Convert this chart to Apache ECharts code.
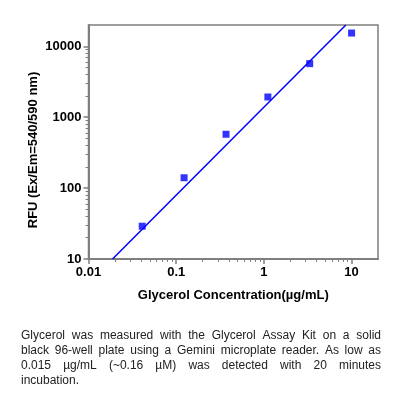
<!DOCTYPE html>
<html>
<head>
<meta charset="utf-8">
<script src="https://cdn.jsdelivr.net/npm/echarts@6/dist/echarts.min.js"></script>
<style>
html, body { margin: 0; padding: 0; background: #fff; }
#main { width: 400px; height: 398px; }
</style>
</head>
<body>
<div id="main"></div>
<script>
// 数据
var conc = [0.041, 0.123, 0.37, 1.11, 3.33, 10];
var rfu = [29, 140, 575, 1930, 5700, 15400];
// 拟合线两端
var fitX = [0.0188, 8.6];
var fitY = [10, 20000];
// 刻度
var xMajor = [0.01, 0.1, 1, 10];
var yMajor = [10, 100, 1000, 10000];
var xMinor = [0.02, 0.03, 0.04, 0.05, 0.06, 0.07, 0.08, 0.09, 0.2, 0.3, 0.4, 0.5, 0.6, 0.7, 0.8, 0.9, 2, 3, 4, 5, 6, 7, 8, 9];
var yMinor = [20, 30, 40, 50, 60, 70, 80, 90, 200, 300, 400, 500, 600, 700, 800, 900, 2000, 3000, 4000, 5000, 6000, 7000, 8000, 9000];
var caption = [
	"Glycerol was measured with the Glycerol Assay Kit on a solid",
	"black 96-well plate using a Gemini microplate reader. As low as",
	"0.015 \u00b5g/mL (~0.16 \u00b5M) was detected with 20 minutes",
	"incubation."
];

var axisColor = "#7f7f7f";
var labelFont = { fontFamily: "Liberation Sans, Arial", fontWeight: "bold", fontSize: 13, color: "#000" };
var plainNum = function(v) { return String(v); };

var pairs = [];
for (var i = 0; i < conc.length; i++) {
	pairs.push([conc[i], rfu[i]]);
}
var fitLine = [[fitX[0], fitY[0]], [fitX[1], fitY[1]]];

//说明文字，两端对齐
var capFont = "12px 'Liberation Sans', Arial";
var capLeft = 21, capWidth = 360;
var ctx = document.createElement("canvas").getContext("2d");
ctx.font = capFont;
var captionText = [];
for (var j = 0; j < caption.length; j++) {
	var words = caption[j].split(" ");
	var total = 0;
	for (var k = 0; k < words.length; k++) total += ctx.measureText(words[k]).width;
	var last = (j == caption.length - 1);
	var gap = last ? ctx.measureText(" ").width : (capWidth - total) / (words.length - 1);
	var x = capLeft;
	for (var k = 0; k < words.length; k++) {
		captionText.push({
			type: "text",
			x: x,
			y: 330 + j * 15,
			style: { text: words[k], font: capFont, fill: "#222" }
		});
		x += ctx.measureText(words[k]).width + gap;
	}
}

var myChart = echarts.init(document.getElementById("main"));
var option = {
	animation: false,
	backgroundColor: "#fff",
	grid: {
		left: 88.5, top: 25, right: 22, bottom: 139,
		show: true, borderColor: axisColor, borderWidth: 1.5, backgroundColor: "transparent"
	},
	xAxis: [
		{
			type: "log", min: 0.01, max: 20, logBase: 10,
			name: "Glycerol Concentration(\u00b5g/mL)", nameLocation: "middle", nameGap: 30,
			nameTextStyle: { fontFamily: "Liberation Sans, Arial", fontWeight: "bold", fontSize: 13, color: "#000" },
			axisLine: { show: true, lineStyle: { color: axisColor, width: 2 } },
			axisTick: { show: true, length: 5, customValues: xMajor, lineStyle: { color: axisColor, width: 1.5 } },
			axisLabel: Object.assign({ margin: 7, customValues: xMajor, formatter: plainNum }, labelFont),
			splitLine: { show: false }
		},
		{
			type: "log", min: 0.01, max: 20, logBase: 10, position: "bottom",
			gridIndex: 0,
			axisLine: { show: false },
			axisTick: { show: true, length: 3, customValues: xMinor, lineStyle: { color: axisColor, width: 1 } },
			axisLabel: { show: false },
			splitLine: { show: false }
		}
	],
	yAxis: [
		{
			type: "log", min: 10, max: 20000, logBase: 10,
			name: "RFU (Ex/Em=540/590 nm)", nameLocation: "middle", nameGap: 49, nameRotate: 90,
			nameMoveOverlap: false,
			nameTextStyle: { fontFamily: "Liberation Sans, Arial", fontWeight: "bold", fontSize: 13, color: "#000", padding: [0, 16, 0, 0] },
			axisLine: { show: true, lineStyle: { color: axisColor, width: 2 } },
			axisTick: { show: true, length: 5, customValues: yMajor, lineStyle: { color: axisColor, width: 1.5 } },
			axisLabel: Object.assign({ margin: 7, customValues: yMajor, formatter: plainNum }, labelFont),
			splitLine: { show: false }
		},
		{
			type: "log", min: 10, max: 20000, logBase: 10, position: "left",
			gridIndex: 0,
			axisLine: { show: false },
			axisTick: { show: true, length: 3, customValues: yMinor, lineStyle: { color: axisColor, width: 1 } },
			axisLabel: { show: false },
			splitLine: { show: false }
		}
	],
	series: [
		{
			type: "line", data: fitLine, showSymbol: false, symbol: "none",
			lineStyle: { color: "#0000ff", width: 1.5 }, z: 2
		},
		{
			type: "scatter", data: pairs, symbol: "rect", symbolSize: 7,
			itemStyle: { color: "#0000ff" }, z: 3
		}
	],
	graphic: captionText
};
myChart.setOption(option);
</script>
</body>
</html>
